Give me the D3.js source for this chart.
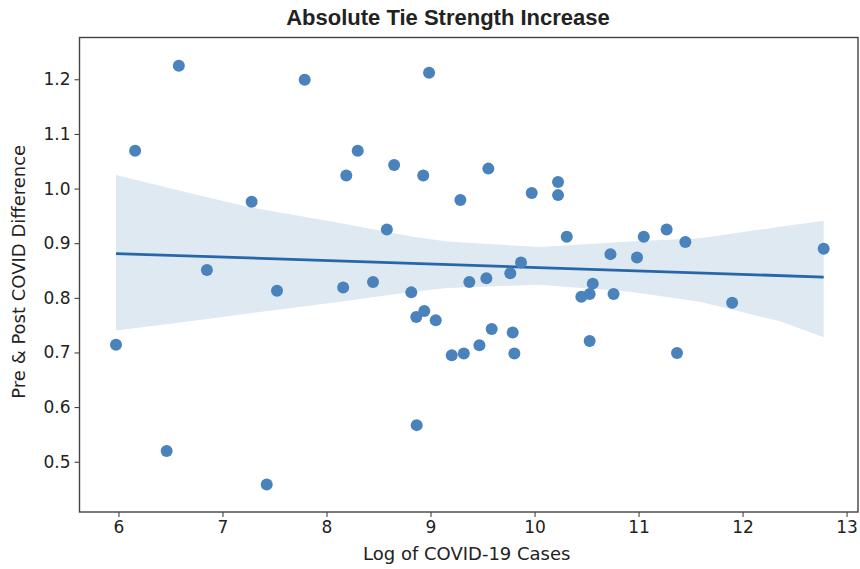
<!DOCTYPE html>
<html>
<head>
<meta charset="utf-8">
<script src="https://cdn.jsdelivr.net/npm/d3@7/dist/d3.min.js"></script>
<style>
  html, body { margin: 0; padding: 0; background: #fff; }
  svg { display: block; }
  text { font-family: "DejaVu Sans", sans-serif; fill: #222; }
</style>
</head>
<body>
<svg id="chart" width="860" height="569"></svg>
<script>
// Log of COVID-19 cases per state (x) and pre/post COVID tie-strength difference (y)
const logCases = [
  5.976, 6.16, 6.463, 6.58, 6.85, 7.28, 7.425, 7.524, 7.79, 8.16,
  8.19, 8.30, 8.447, 8.58, 8.65, 8.815, 8.863, 8.867, 8.93, 8.94,
  8.986, 9.05, 9.204, 9.287, 9.32, 9.373, 9.47, 9.537, 9.556, 9.588,
  9.767, 9.79, 9.806, 9.87, 9.973, 10.226, 10.226, 10.31, 10.45, 10.53,
  10.53, 10.56, 10.73, 10.76, 10.985, 11.05, 11.27, 11.37, 11.45, 11.90,
  12.78
];
const tieDiff = [
  0.714, 1.069, 0.5195, 1.225, 0.851, 0.976, 0.4585, 0.813, 1.199, 0.819,
  1.024, 1.069, 0.829, 0.925, 1.043, 0.810, 0.765, 0.567, 1.024, 0.776,
  1.212, 0.759, 0.695, 0.979, 0.698, 0.829, 0.713, 0.836, 1.0365, 0.743,
  0.845, 0.7365, 0.698, 0.8645, 0.992, 1.012, 0.988, 0.912, 0.802, 0.807,
  0.721, 0.826, 0.880, 0.807, 0.874, 0.912, 0.925, 0.699, 0.902, 0.791,
  0.890
];

// 95% confidence band of the fitted line (bootstrap estimate)
const bandX    = [5.976, 6.69, 7.23, 8.13, 8.83, 9.16, 10.05, 10.92, 11.59, 12.36, 12.78];
const bandHigh = [1.025, 0.9915, 0.967, 0.937, 0.912, 0.903, 0.893, 0.903, 0.909, 0.930, 0.941];
const bandLow  = [0.740, 0.757, 0.771, 0.793, 0.811, 0.818, 0.824, 0.811, 0.793, 0.757, 0.728];

const xTicks = [6, 7, 8, 9, 10, 11, 12, 13];
const yTicks = [0.5, 0.6, 0.7, 0.8, 0.9, 1.0, 1.1, 1.2];

const titleText = "Absolute Tie Strength Increase";
const xLabel = "Log of COVID-19 Cases";
const yLabel = "Pre & Post COVID Difference";

const svg = d3.select("#chart");
const plot = { left: 79.5, right: 858, top: 37.5, bottom: 512 };

const x = d3.scaleLinear().domain([5.625, 13.11]).range([plot.left, plot.right]);
const y = d3.scaleLinear().domain([0.408, 1.2765]).range([plot.bottom, plot.top]);

const pointColor = "#4a82bc";
const lineColor = "#2766a8";
const bandColor = "#dfe9f2";

// ordinary least squares fit
const n = logCases.length;
const mx = d3.mean(logCases), my = d3.mean(tieDiff);
let sxy = 0, sxx = 0;
for (let i = 0; i < n; i++) {
  sxy += (logCases[i] - mx) * (tieDiff[i] - my);
  sxx += (logCases[i] - mx) ** 2;
}
const slope = sxy / sxx;
const intercept = my - slope * mx;
const xMin = d3.min(logCases), xMax = d3.max(logCases);

const band = bandX.map((v, i) => ({ x: v, lo: bandLow[i], hi: bandHigh[i] }));

const g = svg.append("g");

g.append("path")
  .datum(band)
  .attr("fill", bandColor)
  .attr("d", d3.area().x(d => x(d.x)).y0(d => y(d.lo)).y1(d => y(d.hi)));

g.append("line")
  .attr("x1", x(xMin)).attr("y1", y(intercept + slope * xMin))
  .attr("x2", x(xMax)).attr("y2", y(intercept + slope * xMax))
  .attr("stroke", lineColor)
  .attr("stroke-width", 2.8);

g.selectAll("circle.pt")
  .data(d3.zip(logCases, tieDiff))
  .join("circle")
  .attr("class", "pt")
  .attr("cx", d => x(d[0]))
  .attr("cy", d => y(d[1]))
  .attr("r", 6)
  .attr("fill", pointColor);

// axes
const xAxis = svg.append("g")
  .attr("transform", `translate(0,${plot.bottom})`)
  .call(d3.axisBottom(x).tickValues(xTicks).tickFormat(d3.format("d")).tickSize(5).tickPadding(4));
const yAxis = svg.append("g")
  .attr("transform", `translate(${plot.left},0)`)
  .call(d3.axisLeft(y).tickValues(yTicks).tickFormat(d3.format(".1f")).tickSize(5).tickPadding(4));

[xAxis, yAxis].forEach(a => {
  a.select(".domain").remove();
  a.selectAll(".tick line").attr("stroke", "#333").attr("stroke-width", 1);
  a.selectAll(".tick text").style("font-size", "17px").attr("fill", "#222");
});

// frame
svg.append("rect")
  .attr("x", plot.left).attr("y", plot.top)
  .attr("width", plot.right - plot.left).attr("height", plot.bottom - plot.top)
  .attr("fill", "none").attr("stroke", "#444").attr("stroke-width", 1.4);

svg.append("text")
  .attr("x", 448).attr("y", 25)
  .attr("text-anchor", "middle")
  .style("font-family", "'Liberation Sans', Arial, sans-serif")
  .style("font-weight", "bold")
  .style("font-size", "22px")
  .attr("fill", "#000")
  .text(titleText);

svg.append("text")
  .attr("x", (plot.left + plot.right) / 2 - 2).attr("y", 560)
  .attr("text-anchor", "middle")
  .style("font-size", "18px")
  .text(xLabel);

svg.append("text")
  .attr("transform", `translate(25,${(plot.top + plot.bottom) / 2 - 3}) rotate(-90)`)
  .attr("text-anchor", "middle")
  .style("font-size", "18px")
  .text(yLabel);
</script>
</body>
</html>
